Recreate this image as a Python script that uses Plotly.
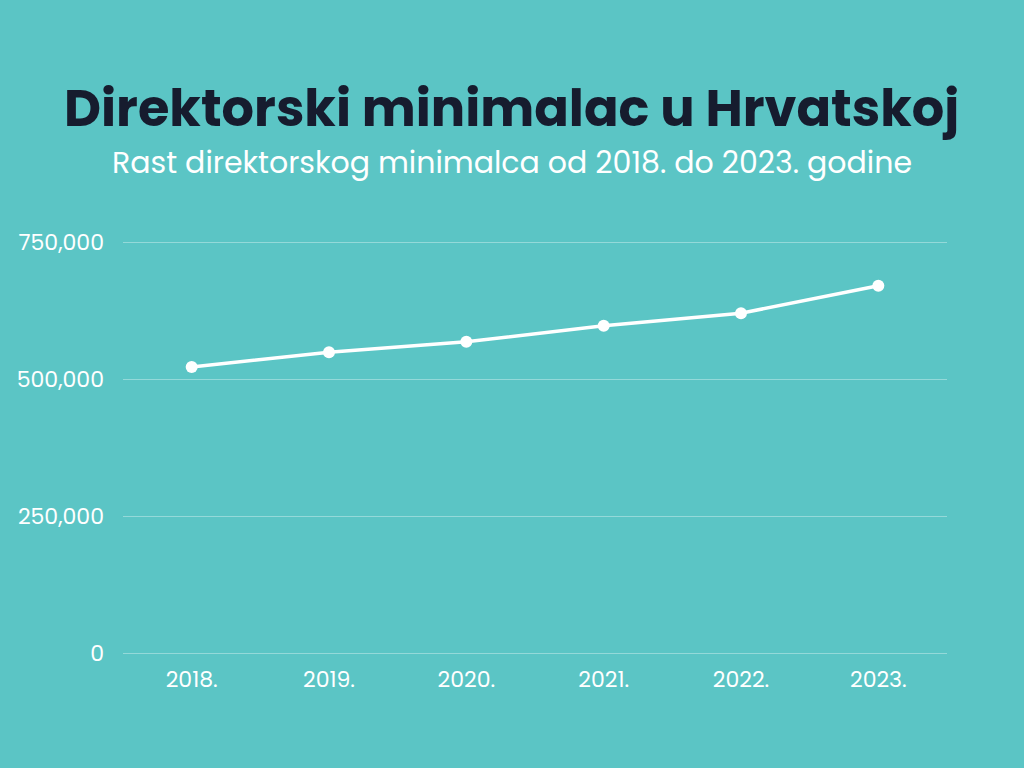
import plotly.graph_objects as go

years = ["2018.", "2019.", "2020.", "2021.", "2022.", "2023."]
values = [522000, 549000, 568000, 597000, 620000, 670000]
y_ticks = [0, 250000, 500000, 750000]
y_tick_labels = ["0", "250,000", "500,000", "750,000"]

bg = "#5BC5C5"
font_family = "Poppins, Inter, Lato, sans-serif"

W, H = 1024, 768
top_px, bottom_px = 239, 656   # pixel rows of range ends
left_px, right_px = 123, 947
per_px = 750000 / 411.0
y_lo = -(bottom_px - 653) * per_px
y_hi = 750000 + (242 - top_px) * per_px

fig = go.Figure()
fig.add_trace(go.Scatter(
    x=years, y=values, mode="lines+markers",
    line=dict(color="white", width=3.5),
    marker=dict(color="white", size=12),
    hoverinfo="skip",
))

plot_h = bottom_px - top_px
plot_w = right_px - left_px

fig.update_layout(
    width=W, height=H,
    paper_bgcolor=bg, plot_bgcolor=bg,
    margin=dict(l=left_px, r=W - right_px, t=top_px, b=H - bottom_px, pad=0),
    showlegend=False,
    font=dict(family=font_family, color="white"),
    xaxis=dict(
        type="category", range=[-0.5, 5.5],
        showgrid=False, zeroline=False, showline=False,
        ticks="", tickfont=dict(size=22, color="white"),
        ticklabelstandoff=8,
    ),
    yaxis=dict(
        range=[y_lo, y_hi], tickvals=y_ticks, ticktext=y_tick_labels,
        showgrid=True, gridcolor="rgba(255,255,255,0.35)", gridwidth=1,
        zeroline=False, showline=False, ticks="",
        tickfont=dict(size=22, color="white"),
        ticklabelstandoff=18,
    ),
)

def ann_y(py):
    return (bottom_px - py) / plot_h

fig.add_annotation(text="<b>Direktorski minimalac u Hrvatskoj</b>",
                   x=(511 - left_px) / plot_w, y=ann_y(108),
                   xref="paper", yref="paper", showarrow=False,
                   xanchor="center", yanchor="middle",
                   font=dict(size=51, color="#161C2E", family=font_family))
fig.add_annotation(text="Rast direktorskog minimalca od 2018. do 2023. godine",
                   x=(512 - left_px) / plot_w, y=ann_y(162),
                   xref="paper", yref="paper", showarrow=False,
                   xanchor="center", yanchor="middle",
                   font=dict(size=30, color="white", family=font_family))

fig.write_html("out.html", config={"displayModeBar": False},
               post_script="document.body.style.margin='0';document.body.style.background='" + bg + "';")
